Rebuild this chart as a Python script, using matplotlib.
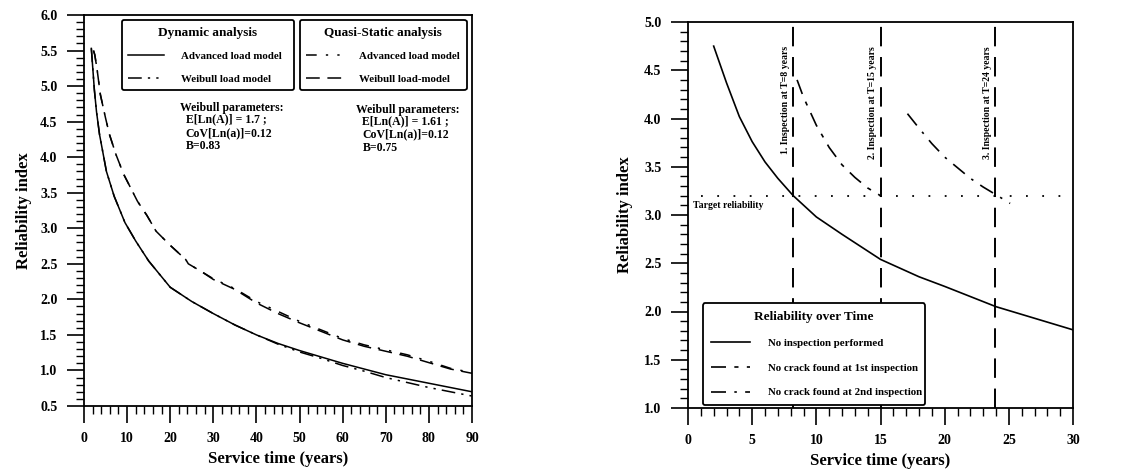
import numpy as np
import matplotlib
matplotlib.use("Agg")
import matplotlib.pyplot as plt
from matplotlib.lines import Line2D
from matplotlib.ticker import MultipleLocator, FormatStrFormatter

plt.rcParams["font.family"] = ["Liberation Serif", "DejaVu Serif"]
plt.rcParams["font.weight"] = "bold"

# ---- left panel: reliability vs service time (0-90 years)
t_dyn = [1.7, 2.4, 2.9, 3.6, 5.2, 7.0, 9.5, 12, 15, 20, 25, 30, 35, 40, 45,
         50, 55, 60, 65, 70, 75, 80, 85, 90]
dyn_advanced = [5.53, 4.95, 4.64, 4.32, 3.80, 3.45, 3.08, 2.82, 2.54, 2.17, 1.97,
                1.80, 1.64, 1.50, 1.38, 1.28, 1.19, 1.10, 1.02, 0.94, 0.88, 0.82,
                0.76, 0.70]
dyn_weibull = [5.53, 4.95, 4.64, 4.32, 3.80, 3.45, 3.08, 2.82, 2.54, 2.17, 1.97,
               1.80, 1.64, 1.50, 1.37, 1.26, 1.17, 1.07, 0.99, 0.90, 0.83, 0.76,
               0.70, 0.64]

t_qs = [2.2, 2.5, 3.0, 3.8, 5.0, 5.9, 7.4, 9.2, 12.4, 14.6, 16.7, 20, 23.6, 24.2,
        27, 30, 35, 40, 45, 50, 55, 60, 65, 70, 75, 80, 85, 90]
qs_advanced = [5.50, 5.44, 5.25, 4.88, 4.55, 4.32, 4.04, 3.76, 3.38, 3.18, 2.96,
               2.76, 2.56, 2.50, 2.40, 2.29, 2.15, 1.97, 1.83, 1.69, 1.57, 1.45,
               1.36, 1.29, 1.22, 1.13, 1.03, 0.97]
qs_weibull = [5.50, 5.44, 5.25, 4.88, 4.55, 4.32, 4.04, 3.76, 3.38, 3.18, 2.96,
              2.76, 2.56, 2.50, 2.40, 2.28, 2.14, 1.95, 1.80, 1.67, 1.55, 1.43,
              1.34, 1.27, 1.20, 1.11, 1.02, 0.96]

# ---- right panel: inspections
t_none = [2.0, 3.0, 4.0, 5.0, 6.0, 7.0, 8.2, 10, 12, 15, 18, 20, 24, 27, 30]
rel_none = [4.75, 4.37, 4.02, 3.76, 3.55, 3.38, 3.20, 2.98, 2.80, 2.54, 2.36,
            2.26, 2.05, 1.93, 1.81]
t_insp1 = [8.5, 9.0, 10.0, 11.0, 12.0, 13.0, 14.0, 15.0]
rel_insp1 = [4.40, 4.22, 3.93, 3.70, 3.52, 3.39, 3.28, 3.20]
t_insp2 = [17.1, 18, 19, 20, 21, 22, 23, 24, 25.1]
rel_insp2 = [4.05, 3.90, 3.74, 3.60, 3.49, 3.38, 3.29, 3.21, 3.12]
inspection_times = [8.2, 15.0, 23.9]
inspection_labels = ["1. Inspection at T=8 years", "2. Inspection at T=15 years",
                     "3. Inspection at T=24 years"]
target_rel = 3.2

DASH_DOT2 = (9, 4, 1.5, 4, 1.5, 4)
DASH_DOT2_WIDE = (7, 6, 1.5, 6, 1.5, 6)
DASHED = (9, 5)
INSP1 = (9, 5, 2.5, 5)
INSP2 = (9, 5, 1.5, 5)


def style_axis(ax, ylabelpad):
    for s in ax.spines.values():
        s.set_linewidth(1.3)
    ax.tick_params(which="major", direction="out", length=12, width=1.2,
                   labelsize=10, pad=7)
    ax.tick_params(which="minor", direction="out", length=6, width=1.0)
    for lab in ax.get_xticklabels() + ax.get_yticklabels():
        lab.set_fontweight("bold")
    ax.set_xlabel("Service time (years)", fontsize=12, fontweight="bold",
                  labelpad=4)
    ax.set_ylabel("Reliability index", fontsize=12, fontweight="bold",
                  labelpad=ylabelpad)


fig = plt.figure(figsize=(11.34, 4.70), dpi=100)
ax1 = fig.add_axes([84 / 1134, 1 - 406 / 470, 388 / 1134, 391 / 470])
ax2 = fig.add_axes([688 / 1134, 1 - 408 / 470, 385 / 1134, 386 / 470])

# left
ax1.plot(t_dyn, dyn_advanced, color="k", lw=1.1)
ax1.plot(t_dyn, dyn_weibull, color="k", lw=1.1, dashes=DASH_DOT2)
ax1.plot(t_qs, qs_advanced, color="k", lw=1.1, dashes=DASH_DOT2_WIDE)
ax1.plot(t_qs, qs_weibull, color="k", lw=1.1, dashes=DASHED)
ax1.set_xlim(0, 90)
ax1.set_ylim(0.5, 6.0)
ax1.xaxis.set_major_locator(MultipleLocator(10))
ax1.xaxis.set_minor_locator(MultipleLocator(2))
ax1.yaxis.set_major_locator(MultipleLocator(0.5))
ax1.yaxis.set_minor_locator(MultipleLocator(0.1))
ax1.yaxis.set_major_formatter(FormatStrFormatter("%.1f"))
style_axis(ax1, 6)

leg_kw = dict(frameon=True, fancybox=True, edgecolor="k", framealpha=1,
              prop={"size": 7.8, "weight": "bold"}, handlelength=3.3,
              handletextpad=1.6, labelspacing=1.2, borderpad=0.6,
              borderaxespad=0, mode="expand", loc="upper left",
              title_fontproperties={"size": 9.5, "weight": "bold"})
h_dyn = [Line2D([], [], color="k", lw=1.1),
         Line2D([], [], color="k", lw=1.1, dashes=DASH_DOT2)]
leg1 = ax1.legend(h_dyn, ["Advanced load model", "Weibull load model"],
                  title="Dynamic analysis",
                  bbox_to_anchor=(0.097, 0.987, 0.445, 0.0), **leg_kw)
leg1.get_frame().set_linewidth(1.3)
ax1.add_artist(leg1)
h_qs = [Line2D([], [], color="k", lw=1.1, dashes=DASH_DOT2_WIDE),
        Line2D([], [], color="k", lw=1.1, dashes=DASHED)]
leg2 = ax1.legend(h_qs, ["Advanced load model", "Weibull load-model"],
                  title="Quasi-Static analysis",
                  bbox_to_anchor=(0.556, 0.987, 0.43, 0.0), **leg_kw)
leg2.get_frame().set_linewidth(1.3)

ax1.text(22.3, 4.69, "Weibull parameters:", fontsize=8.5, fontweight="bold",
         va="center")
ax1.text(23.6, 4.34, "E[Ln(A)] = 1.7 ;\nCoV[Ln(a)]=0.12\nB=0.83", fontsize=8.5,
         fontweight="bold", va="center", linespacing=1.15)
ax1.text(63, 4.67, "Weibull parameters:", fontsize=8.5, fontweight="bold",
         va="center")
ax1.text(64.6, 4.32, "E[Ln(A)] = 1.61 ;\nCoV[Ln(a)]=0.12\nB=0.75", fontsize=8.5,
         fontweight="bold", va="center", linespacing=1.15)

# right
ax2.plot(t_none, rel_none, color="k", lw=1.2)
ax2.plot(t_insp1, rel_insp1, color="k", lw=1.2, dashes=INSP1)
ax2.plot(t_insp2, rel_insp2, color="k", lw=1.2, dashes=INSP2)
ax2.plot([1.0, 29.4], [target_rel, target_rel], color="k", lw=1.3,
         dashes=(1, 8))
ax2.text(0.4, 3.1, "Target reliability", fontsize=7, fontweight="bold",
         va="center")
for tx, lab in zip(inspection_times, inspection_labels):
    ax2.axvline(tx, color="k", lw=1.4, dashes=(10, 5.5))
    ax2.text(tx - 0.6, 4.75, lab, rotation=90, fontsize=7, fontweight="bold",
             ha="center", va="top")
ax2.set_xlim(0, 30)
ax2.set_ylim(1.0, 5.0)
ax2.xaxis.set_major_locator(MultipleLocator(5))
ax2.xaxis.set_minor_locator(MultipleLocator(1))
ax2.yaxis.set_major_locator(MultipleLocator(0.5))
ax2.yaxis.set_minor_locator(MultipleLocator(0.1))
ax2.yaxis.set_major_formatter(FormatStrFormatter("%.1f"))
style_axis(ax2, 8)

h_r = [Line2D([], [], color="k", lw=1.2),
       Line2D([], [], color="k", lw=1.2, dashes=INSP1),
       Line2D([], [], color="k", lw=1.2, dashes=INSP2)]
leg3 = ax2.legend(h_r, ["No inspection performed",
                        "No crack found at 1st inspection",
                        "No crack found at 2nd inspection"],
                  title="Reliability over Time", frameon=True, fancybox=True,
                  edgecolor="k", framealpha=1,
                  prop={"size": 7.8, "weight": "bold"}, handlelength=3.6,
                  handletextpad=1.7, labelspacing=1.4, borderpad=0.7,
                  borderaxespad=0, mode="expand", loc="lower left",
                  bbox_to_anchor=(0.039, 0.008, 0.577, 0.0),
                  title_fontproperties={"size": 9.5, "weight": "bold"})
leg3.get_frame().set_linewidth(1.3)

fig.savefig("out.png", dpi=100)
